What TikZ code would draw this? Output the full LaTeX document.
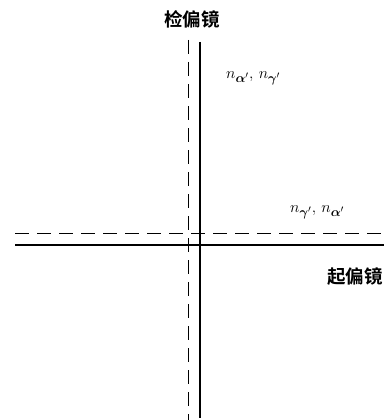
\documentclass[tikz,border=0pt]{standalone}
\usepackage{fix-cm}
\usepackage{amsmath}
\usepackage{bm}
\usepackage{fontspec}
\DeclareMathSizes{16}{16}{13}{10}
\newfontfamily\cjk{Noto Sans CJK SC}[BoldFont={Noto Sans CJK SC Bold}]
\begin{document}
\begin{tikzpicture}[x=1pt,y=-1pt,
  axis/.style={line width=2.2pt},
  dashaxis/.style={line width=1pt,dash pattern=on 14pt off 8pt},
  cjklabel/.style={font=\cjk\bfseries\fontsize{18.5}{18.5}\selectfont,inner sep=0pt},
  mlabel/.style={font=\fontsize{16}{16}\selectfont,inner sep=0pt}]
\useasboundingbox (0,0) rectangle (384,420);
\coordinate (vt) at (200,42);
\coordinate (vb) at (200,418);
\coordinate (dvt) at (188,40);
\coordinate (dvb) at (188,420);
\coordinate (hl) at (15,245);
\coordinate (hr) at (384,245);
\coordinate (dhl) at (15,233);
\coordinate (dhr) at (384,233);
\draw[axis] (vt) -- (vb);
\draw[axis] (hl) -- (hr);
\draw[dashaxis] (dvt) -- (dvb);
\draw[dashaxis] (dhl) -- (dhr);
\node[cjklabel] (top) at (192,19) {检偏镜};
\node[cjklabel,anchor=west] (right) at (327,277) {起偏镜};
\node[mlabel,anchor=west] (l1) at (226,78) {$n_{\bm{\alpha}'},\, n_{\bm{\gamma}'}$};
\node[mlabel,anchor=west] (l2) at (290,212) {$n_{\bm{\gamma}'},\, n_{\bm{\alpha}'}$};
\end{tikzpicture}
\end{document}
